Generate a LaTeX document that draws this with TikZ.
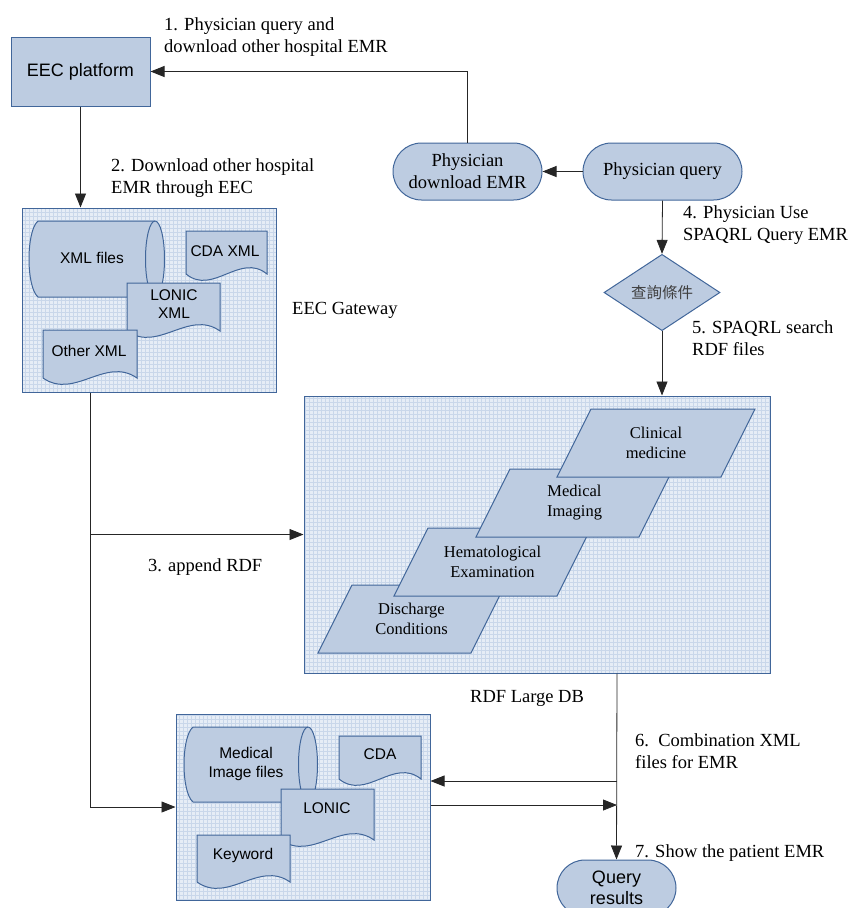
\documentclass[tikz,border=0pt]{standalone}
\usepackage{fontspec}
\setmainfont{Liberation Serif}
\setsansfont{Liberation Sans}
\newfontfamily\cjkfont{Noto Sans CJK TC}
\usetikzlibrary{shapes,shapes.geometric,shapes.misc,arrows.meta,positioning,calc}

\definecolor{shapefill}{HTML}{BDCCE1}
\definecolor{shapeline}{HTML}{41669A}
\definecolor{gridfill}{HTML}{E6EDF6}
\definecolor{gridline}{HTML}{C9D7EA}

\tikzset{
  flow/.style={draw=black!85, line width=0.8pt, -{Triangle[length=14pt,width=11pt]}},
  link/.style={draw=black!85, line width=0.8pt},
  notetext/.style={font=\fontsize{18.5}{22.5}\selectfont, align=left, anchor=north west, inner sep=0pt},
  gridbox/.style={rectangle, draw=shapeline, line width=1pt, fill=gridfill, inner sep=0pt,
    path picture={\draw[gridline, line width=0.35pt] (path picture bounding box.south west) grid[step=4pt] (path picture bounding box.north east);}},
  plainbox/.style={rectangle, draw=shapeline, line width=1pt, fill=shapefill, inner sep=0pt},
  pill/.style={rounded rectangle, draw=shapeline, line width=1pt, fill=shapefill, inner sep=0pt, align=center},
  shapepath/.style={draw=shapeline, line width=1pt, fill=shapefill},
  sanstext/.style={font=\sffamily\fontsize{15.5}{18.5}\selectfont, align=center, inner sep=0pt},
  slabtext/.style={font=\fontsize{16.5}{20}\selectfont, align=center, inner sep=0pt}
}

% storage drum: left x, top y, x of right ellipse, bottom y
\newcommand{\drumshape}[4]{%
  \pgfmathsetmacro\drumry{(#4-#2)/2}
  \draw[shapepath] (#1,#2) -- (#3,#2) arc[start angle=-90, end angle=90, x radius=9.5, y radius=\drumry]
    -- (#1,#4) .. controls (#1-12,#4-10) and (#1-12,#2+10) .. cycle;
  \draw[draw=shapeline, line width=1pt] (#3,#2) arc[start angle=270, end angle=90, x radius=9.5, y radius=\drumry];
}
% document sheet: left x, top y, right x, y of the wave
\newcommand{\sheetshape}[4]{%
  \pgfmathsetmacro\sheeta{#3-(#3-#1)/3}
  \pgfmathsetmacro\sheetb{#1+(#3-#1)/3}
  \draw[shapepath] (#1,#2) -- (#3,#2) -- (#3,#4) .. controls (\sheeta,#4-22) and (\sheetb,#4+22) .. (#1,#4) -- cycle;
}

\begin{document}
\begin{tikzpicture}[x=1pt, y=-1pt]
  \path[use as bounding box, clip] (0,0) rectangle (853,908);

  % boxes
  \node[plainbox, minimum width=139pt, minimum height=69pt, font=\sffamily\fontsize{18}{21}\selectfont] (platform) at (80.5,71.5) {EEC platform};
  \node[gridbox, minimum width=254pt, minimum height=184pt] (gateway) at (149,300) {};
  \node[gridbox, minimum width=466pt, minimum height=277pt] (rdfdb) at (537,534.5) {};
  \node[gridbox, minimum width=254pt, minimum height=186pt] (mergebox) at (303,807) {};
  \node[pill, minimum width=149pt, minimum height=57pt, font=\fontsize{18.5}{22}\selectfont] (pdownload) at (467.5,171.5) {Physician\\download EMR};
  \node[pill, minimum width=159pt, minimum height=57pt, font=\fontsize{18.5}{22}\selectfont] (pquery) at (662.5,171.5) {Physician query};
  \node[diamond, draw=shapeline, line width=1pt, fill=shapefill, inner sep=0pt, minimum width=116pt, minimum height=69pt,
        font=\cjkfont\fontsize{15.5}{18}\selectfont, text=black!75] (cond) at (662,292.5) {查詢條件};
  \node[pill, minimum width=119pt, minimum height=56pt, font=\sffamily\fontsize{18}{20.5}\selectfont] (qresult) at (616.5,888) {Query\\results};

  % gateway contents
  \drumshape{38}{221}{155}{297}
  \node[sanstext] (xmlfiles) at (92,258) {XML files};
  \sheetshape{186}{231}{267}{274}
  \node[sanstext] (cdaxml) at (225,251) {CDA XML};
  \sheetshape{127}{283}{220}{331}
  \node[sanstext] (lonicxml) at (174,304) {LONIC\\XML};
  \sheetshape{43}{330}{137}{378}
  \node[sanstext] (otherxml) at (89,351) {Other XML};

  % merged record contents
  \drumshape{193}{727}{308}{802}
  \node[sanstext] (imagefiles) at (246,764) {Medical\\Image files};
  \sheetshape{339}{736}{421}{779}
  \node[sanstext] (cda) at (380,754) {CDA};
  \sheetshape{281}{789}{374}{840}
  \node[sanstext] (lonic) at (327,808) {LONIC};
  \sheetshape{197}{835}{290}{882}
  \node[sanstext] (keyword) at (243,855) {Keyword};

  % RDF slabs
  \foreach \bx/\by/\w/\txt/\nm in {318/653/153/{Discharge\\Conditions}/discharge,
      394/596/163/{Hematological\\Examination}/hemato,
      476/537/163/{Medical\\Imaging}/imaging,
      557/477/164/{Clinical\\medicine}/clinical}{
    \draw[shapepath] (\bx,\by) -- ++(\w,0) -- ++(34,-68) -- ++(-\w,0) -- cycle;
    \node[slabtext] (slab-\nm) at (\bx+17+\w/2,\by-34) {\txt};
  }

  % connectors
  \coordinate (tapx) at (90,0);
  \coordinate (outx) at (617,0);
  \coordinate (back) at (617,781);
  \coordinate (fwd) at (617,805);
  \draw[flow] (pdownload.north) |- (platform.east);
  \draw[flow] (platform.south) -- (platform.south |- gateway.north);
  \draw[flow] (pquery.west) -- (pdownload.east);
  \draw[flow] (pquery.south) -- (cond.north);
  \draw[flow] (cond.south) -- (cond.south |- rdfdb.north);
  \draw[flow] (gateway.south -| tapx) |- (mergebox.west);
  \draw[flow] (rdfdb.west -| tapx) -- (rdfdb.west);
  \draw[flow] (rdfdb.south -| outx) -- (qresult.north);
  \draw[flow] (back) -- (back -| mergebox.east);
  \draw[flow] (fwd -| mergebox.east) -- (fwd);

  % step notes
  \node[notetext] (note1) at (164,17) {1. Physician query and\\download other hospital EMR};
  \node[notetext] (note2) at (111,158) {2. Download other hospital\\EMR through EEC};
  \node[notetext] (note3) at (148,558) {3. append RDF};
  \node[notetext] (note4) at (683,205) {4. Physician Use\\SPAQRL Query EMR};
  \node[notetext] (note5) at (692,320) {5. SPAQRL search\\RDF files};
  \node[notetext] (note6) at (635,733) {6.\ \ Combination XML\\files for EMR};
  \node[notetext] (note7) at (635,844) {7. Show the patient EMR};
  \node[notetext] (gatewayname) at (292,302) {EEC Gateway};
  \node[notetext] (dbname) at (470,690) {RDF Large DB};
\end{tikzpicture}
\end{document}
